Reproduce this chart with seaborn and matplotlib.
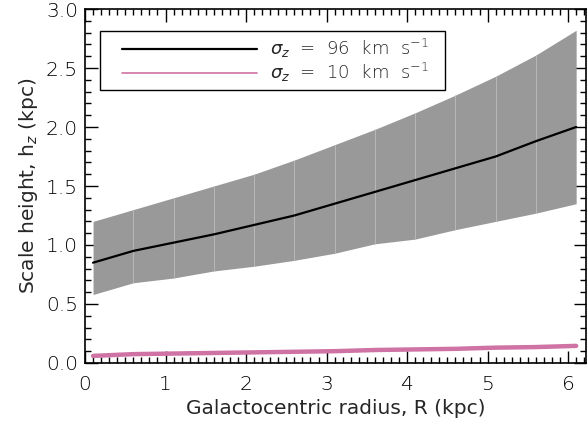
import numpy as np
import pandas as pd
import matplotlib
matplotlib.use("Agg")
import matplotlib.pyplot as plt
import seaborn as sns
from matplotlib.patches import Rectangle
from matplotlib.ticker import MultipleLocator

# galactocentric radius (kpc)
radius = [0.1, 0.6, 1.1, 1.6, 2.1, 2.6, 3.1, 3.6, 4.1, 4.6, 5.1, 5.6, 6.1]
# scale height for sigma_z = 96 km/s (median, lower, upper)
hz_hot = [0.85, 0.95, 1.02, 1.09, 1.17, 1.25, 1.35, 1.45, 1.55, 1.65, 1.75, 1.88, 2.00]
hz_hot_lo = [0.58, 0.68, 0.72, 0.78, 0.82, 0.87, 0.93, 1.01, 1.05, 1.13, 1.20, 1.27, 1.35]
hz_hot_hi = [1.20, 1.30, 1.40, 1.50, 1.60, 1.72, 1.85, 1.98, 2.12, 2.27, 2.43, 2.61, 2.82]
# scale height for sigma_z = 10 km/s
hz_cold = [0.06, 0.075, 0.08, 0.085, 0.09, 0.095, 0.10, 0.11, 0.115, 0.12, 0.13, 0.135, 0.145]

df = pd.DataFrame({"R": radius, "hot": hz_hot, "lo": hz_hot_lo, "hi": hz_hot_hi, "cold": hz_cold})

sns.set_style("ticks")
plt.rcParams["font.family"] = ["DejaVu Sans"]
plt.rcParams["font.weight"] = "light"
plt.rcParams["mathtext.fontset"] = "dejavusans"

fig = plt.figure(figsize=(5.87, 4.25), dpi=100)
ax = fig.add_axes([0.1448, 0.1459, 0.8532, 0.8329])

ax.fill_between(df["R"], df["lo"], df["hi"], color="#999999", lw=0, zorder=1)
ax.vlines(df["R"][1:-1], df["lo"][1:-1], df["hi"][1:-1], color="#b8b8b8", lw=0.7, zorder=1.5)

sns.lineplot(data=df, x="R", y="hot", ax=ax, color="black", lw=1.6, zorder=3)
sns.lineplot(data=df, x="R", y="cold", ax=ax, color="#cf72a4", lw=3.2, zorder=3)

# legend box drawn separately so the padding matches
ax.add_patch(Rectangle((0.03, 0.771), 0.689, 0.167, transform=ax.transAxes,
                       facecolor="white", edgecolor="black", lw=1.0, zorder=4))
ax.plot([], [], color="black", lw=1.6, label=r"$\sigma_z$  =  96  km  s$^{-1}$")
ax.plot([], [], color="#cf72a4", lw=1.2, label=r"$\sigma_z$  =  10  km  s$^{-1}$")
leg = ax.legend(loc="upper left", bbox_to_anchor=(0.074, 0.921), fontsize=13,
                frameon=False, handlelength=7.5, borderpad=0, labelspacing=0.05,
                handletextpad=0.72, borderaxespad=0)
leg.set_zorder(5)

ax.set_xlim(0, 6.22)
ax.set_ylim(0, 3.0)
ax.xaxis.set_major_locator(MultipleLocator(1))
ax.xaxis.set_minor_locator(MultipleLocator(0.1))
ax.yaxis.set_major_locator(MultipleLocator(0.5))
ax.yaxis.set_minor_locator(MultipleLocator(0.1))
ax.yaxis.set_major_formatter(plt.FuncFormatter(lambda v, _: f"{v:.1f}"))
ax.tick_params(which="both", direction="in", top=True, right=True, colors="black", labelsize=14.5)
ax.tick_params(which="major", length=9, width=1)
ax.tick_params(which="minor", length=4.5, width=1)
ax.tick_params(axis="x", pad=9)
ax.tick_params(axis="y", pad=5)
for s in ax.spines.values():
    s.set_linewidth(1.2)
    s.set_color("black")

ax.set_xlabel("Galactocentric radius, R (kpc)", fontsize=14.5, labelpad=3)
ax.set_ylabel(r"Scale height, h$_z$ (kpc)", fontsize=14.5, labelpad=4)

fig.savefig("out.png", dpi=100)
